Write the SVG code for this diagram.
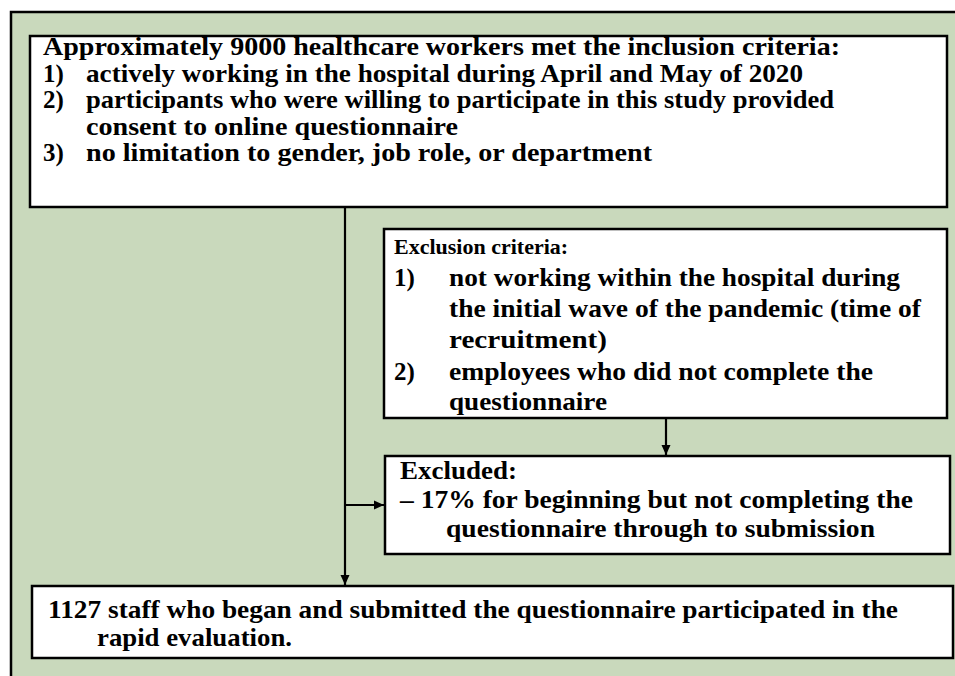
<svg xmlns="http://www.w3.org/2000/svg" width="955" height="676" viewBox="0 0 955 676">
  <defs>
    <marker id="arrow" markerUnits="userSpaceOnUse" markerWidth="11" markerHeight="10" refX="10" refY="5" orient="auto">
      <path d="M0,0.5 L10,5 L0,9.5 z" fill="#000"/>
    </marker>
  </defs>
  <style>
    .bg { fill: #C9D9BC; stroke: #000; stroke-width: 2.5; }
    .box { fill: #FFFFFF; stroke: #000; stroke-width: 2.5; }
    .t { font-family: "Liberation Serif", "Times New Roman", serif; font-weight: bold; font-size: 25px; fill: #000; }
    .h { font-size: 22px; }
    .conn { stroke: #000; stroke-width: 2.2; fill: none; }
  </style>

  <rect class="bg" x="11" y="12" width="960" height="700"/>

  <g id="inclusion">
    <rect class="box" x="30" y="36" width="917" height="171"/>
    <text class="t" x="43" y="55" textLength="797" lengthAdjust="spacingAndGlyphs">Approximately 9000 healthcare workers met the inclusion criteria:</text>
    <text class="t" x="43" y="81.5">1)</text>
    <text class="t" x="86" y="81.5" textLength="717" lengthAdjust="spacingAndGlyphs">actively working in the hospital during April and May of 2020</text>
    <text class="t" x="43" y="108">2)</text>
    <text class="t" x="86" y="108" textLength="748" lengthAdjust="spacingAndGlyphs">participants who were willing to participate in this study provided</text>
    <text class="t" x="86" y="134.5" textLength="372" lengthAdjust="spacingAndGlyphs">consent to online questionnaire</text>
    <text class="t" x="43" y="161">3)</text>
    <text class="t" x="86" y="161" textLength="566" lengthAdjust="spacingAndGlyphs">no limitation to gender, job role, or department</text>
  </g>

  <g id="exclusion-criteria">
    <rect class="box" x="384" y="229" width="563" height="189"/>
    <text class="t h" x="394" y="254">Exclusion criteria:</text>
    <text class="t" x="394" y="286">1)</text>
    <text class="t" x="449" y="286" textLength="451" lengthAdjust="spacingAndGlyphs">not working within the hospital during</text>
    <text class="t" x="449" y="317" textLength="472" lengthAdjust="spacingAndGlyphs">the initial wave of the pandemic (time of</text>
    <text class="t" x="449" y="348" textLength="158" lengthAdjust="spacingAndGlyphs">recruitment)</text>
    <text class="t" x="394" y="379.5">2)</text>
    <text class="t" x="449" y="379.5" textLength="424" lengthAdjust="spacingAndGlyphs">employees who did not complete the</text>
    <text class="t" x="449" y="410" textLength="158" lengthAdjust="spacingAndGlyphs">questionnaire</text>
  </g>

  <g id="excluded">
    <rect class="box" x="385" y="456" width="565" height="98"/>
    <text class="t" x="400" y="479" textLength="117" lengthAdjust="spacingAndGlyphs">Excluded:</text>
    <text class="t" x="400" y="508" textLength="513" lengthAdjust="spacingAndGlyphs">– 17% for beginning but not completing the</text>
    <text class="t" x="446" y="537" textLength="429" lengthAdjust="spacingAndGlyphs">questionnaire through to submission</text>
  </g>

  <g id="participants">
    <rect class="box" x="32" y="586" width="921" height="72"/>
    <text class="t" x="48" y="618" textLength="850" lengthAdjust="spacingAndGlyphs">1127 staff who began and submitted the questionnaire participated in the</text>
    <text class="t" x="97" y="646" textLength="195" lengthAdjust="spacingAndGlyphs">rapid evaluation.</text>
  </g>

  <g id="connectors">
    <line class="conn" x1="345" y1="207" x2="345" y2="585" marker-end="url(#arrow)"/>
    <line class="conn" x1="345" y1="505" x2="384" y2="505" marker-end="url(#arrow)"/>
    <line class="conn" x1="666" y1="418" x2="666" y2="455" marker-end="url(#arrow)"/>
  </g>
</svg>
